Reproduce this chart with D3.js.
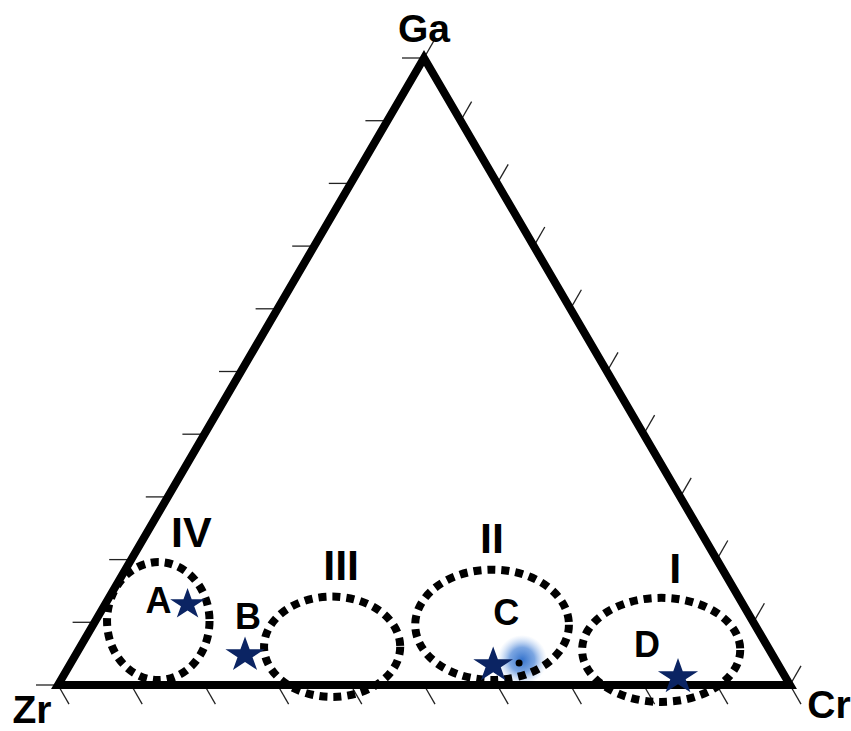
<html>
<head>
<meta charset="utf-8">
<style>
  body { margin: 0; background: #fff; }
  text { font-family: "Liberation Sans", Arial, Helvetica, sans-serif; font-weight: bold; fill: #000; }
</style>
</head>
<body>
<svg width="851" height="731"></svg>
<script src="https://cdn.jsdelivr.net/npm/d3@7"></script>
<script>
// ternary compositions, percent (Ga, Cr; Zr is the rest)
const sampleNames = ["A", "B", "C", "D"]
const sampleGa = [13.2, 5.1, 3.5, 1.6]
const sampleCr = [11.1, 23.0, 57.7, 83.9]

const fieldNames = ["IV", "III", "II", "I"]
const fieldGa = [10.2, 6.1, 9.6, 5.6]
const fieldCr = [8.6, 34.4, 54.5, 79.6]
const fieldSpanCr = [7.0, 9.3, 10.5, 10.8]   // half width, in Cr %
const fieldSpanGa = [9.4, 8.0, 8.8, 8.3]     // half height, in Ga %

const glowGa = [4.0]
const glowCr = [61.4]

const apexNames = ["Ga", "Zr", "Cr"]
const tickSteps = d3.range(0, 101, 10)

const svg = d3.select("svg")

// base runs Zr (0) -> Cr (100), height is Ga
const x = d3.scaleLinear().domain([0, 100]).range([58, 790])
const y = d3.scaleLinear().domain([0, 100]).range([685, 58])
const px = (ga, cr) => x(cr + ga / 2)
const py = (ga) => y(ga)

const defs = svg.append("defs")
const grad = defs.append("radialGradient").attr("id", "glow")
grad.append("stop").attr("offset", "0%").attr("stop-color", "#3573cc").attr("stop-opacity", 1)
grad.append("stop").attr("offset", "50%").attr("stop-color", "#5b90db").attr("stop-opacity", 0.8)
grad.append("stop").attr("offset", "100%").attr("stop-color", "#a9c6ef").attr("stop-opacity", 0)

// ticks, 11 on each side
const tickLen = 22
const dx60 = tickLen * Math.cos(Math.PI / 3), dy60 = tickLen * Math.sin(Math.PI / 3)
const ticks = svg.append("g").attr("stroke", "#222").attr("stroke-width", 1.3)
// left side (Zr - Ga): horizontal, pointing out
ticks.selectAll(".tl").data(tickSteps).join("line")
  .attr("x1", d => px(d, 0)).attr("y1", d => py(d))
  .attr("x2", d => px(d, 0) - tickLen).attr("y2", d => py(d))
// base (Zr - Cr): down-right
ticks.selectAll(".tb").data(tickSteps).join("line")
  .attr("x1", d => px(0, d)).attr("y1", py(0))
  .attr("x2", d => px(0, d) + dx60).attr("y2", py(0) + dy60)
// right side (Cr - Ga): up-right
ticks.selectAll(".tr").data(tickSteps).join("line")
  .attr("x1", d => px(d, 100 - d)).attr("y1", d => py(d))
  .attr("x2", d => px(d, 100 - d) + dx60).attr("y2", d => py(d) - dy60)

// glow behind field II
svg.selectAll(".glow").data(glowGa).join("circle")
  .attr("cx", (d, i) => px(d, glowCr[i])).attr("cy", d => py(d))
  .attr("r", 25).attr("fill", "url(#glow)")

// triangle
const corners = [[100, 0], [0, 0], [0, 100]]
svg.append("path")
  .attr("d", d3.line()(corners.map(c => [px(c[0], c[1]), py(c[0])])) + "Z")
  .attr("fill", "none").attr("stroke", "#000").attr("stroke-width", 8).attr("stroke-linejoin", "miter")

// fields
svg.selectAll(".field").data(fieldNames).join("ellipse")
  .attr("cx", (d, i) => px(fieldGa[i], fieldCr[i])).attr("cy", (d, i) => py(fieldGa[i]))
  .attr("rx", (d, i) => x(fieldSpanCr[i]) - x(0)).attr("ry", (d, i) => y(0) - y(fieldSpanGa[i]))
  .attr("fill", "none").attr("stroke", "#000").attr("stroke-width", 8).attr("stroke-dasharray", "8,6")

// small dot next to C
svg.selectAll(".dot").data(glowGa).join("circle")
  .attr("cx", (d, i) => px(d, glowCr[i]) - 3).attr("cy", d => py(d) + 3)
  .attr("r", 3.5).attr("fill", "#000")

// field labels (offset from centre)
const fieldLabelDx = [33, 9, 0, 14]
const fieldLabelDy = [-74, -67, -72, -67]
svg.selectAll(".flab").data(fieldNames).join("text")
  .attr("x", (d, i) => px(fieldGa[i], fieldCr[i]) + fieldLabelDx[i])
  .attr("y", (d, i) => py(fieldGa[i]) + fieldLabelDy[i])
  .attr("text-anchor", "middle").attr("font-size", 43)
  .text(d => d)

// samples
const star = d3.symbol().type(d3.symbolStar)
const starSize = [300, 380, 390, 400]
svg.selectAll(".star").data(sampleNames).join("path")
  .attr("d", (d, i) => star.size(starSize[i])())
  .attr("transform", (d, i) => `translate(${px(sampleGa[i], sampleCr[i])},${py(sampleGa[i]) + 2}) scale(1.12,1)`)
  .attr("fill", "#0b2463")

const sampleLabelDx = [-29, 3, 13, -31]
const sampleLabelDy = [11, -24, -38, -18]
svg.selectAll(".slab").data(sampleNames).join("text")
  .attr("x", (d, i) => px(sampleGa[i], sampleCr[i]) + sampleLabelDx[i])
  .attr("y", (d, i) => py(sampleGa[i]) + sampleLabelDy[i])
  .attr("text-anchor", "middle").attr("font-size", 36)
  .text(d => d)

// apex labels
const apexPos = [[px(100, 0), 42], [32, 723], [829, 718]]
svg.selectAll(".apex").data(apexNames).join("text")
  .attr("x", (d, i) => apexPos[i][0]).attr("y", (d, i) => apexPos[i][1])
  .attr("text-anchor", "middle").attr("font-size", 39)
  .text(d => d)
</script>
</body>
</html>
